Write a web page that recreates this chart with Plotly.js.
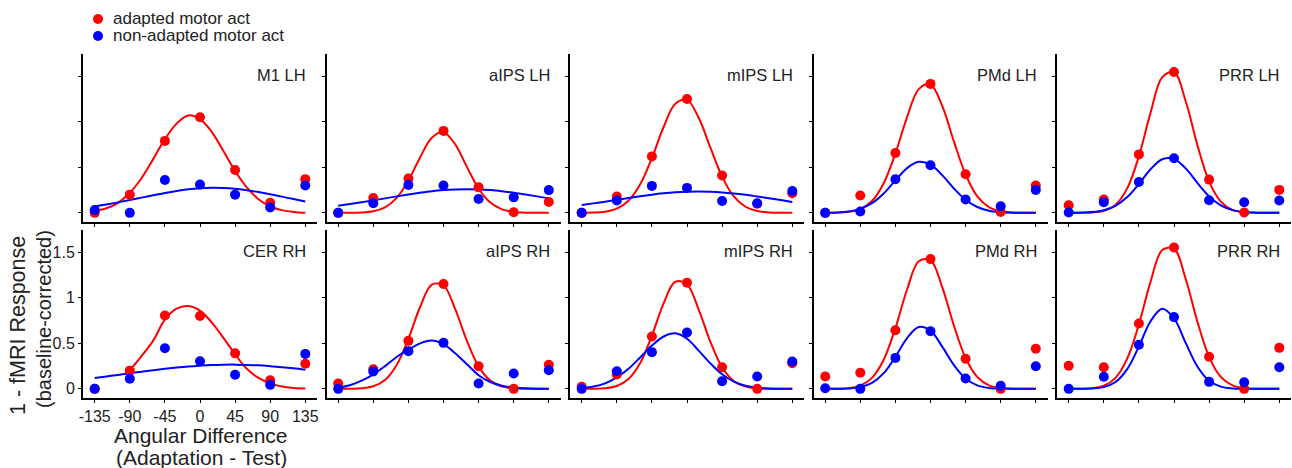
<!DOCTYPE html>
<html>
<head>
<meta charset="utf-8">
<script src="https://cdn.plot.ly/plotly-3.0.1.min.js"></script>
<style>html,body{margin:0;padding:0;background:#fff;}#chart{width:1292px;height:468px;}</style>
</head>
<body>
<div id="chart"></div>
<script>
// ---------------- DATA ----------------
const angles = [-135, -90, -45, 0, 45, 90, 135];
const tickLabelsX = ['-135', '-90', '-45', '0', '45', '90', '135'];
const tickValsY = [0, 0.5, 1, 1.5];
const tickLabelsY = ['0', '0.5', '1', '1.5'];
const fitAngles = [-135, -120, -105, -90, -75, -60, -45, -30, -15, 0, 15, 30, 45, 60, 75, 90, 105, 120, 135];
const fitAnglesCER = [-95, -90, -75, -60, -45, -30, -15, 0, 15, 30, 45, 60, 75, 90, 105, 120, 135];
const seriesNames = ['adapted motor act', 'non-adapted motor act'];
const panelNames = ['M1 LH', 'aIPS LH', 'mIPS LH', 'PMd LH', 'PRR LH', 'CER RH', 'aIPS RH', 'mIPS RH', 'PMd RH', 'PRR RH'];

// M1 LH
const m1lhAdapted = [0.0, 0.20, 0.79, 1.05, 0.47, 0.11, 0.37];
const m1lhNonAdapted = [0.03, 0.0, 0.36, 0.31, 0.20, 0.06, 0.30];
const m1lhAdaptedFit = [0.02, 0.05, 0.11, 0.22, 0.38, 0.59, 0.81, 0.98, 1.07, 1.03, 0.89, 0.68, 0.46, 0.28, 0.15, 0.07, 0.03, 0.01, 0.0];
const m1lhNonAdaptedFit = [0.071, 0.092, 0.115, 0.140, 0.167, 0.193, 0.219, 0.241, 0.258, 0.270, 0.275, 0.273, 0.264, 0.248, 0.228, 0.204, 0.178, 0.151, 0.125];
// aIPS LH
const aipslhAdapted = [0.0, 0.164, 0.376, 0.90, 0.28, 0.007, 0.12];
const aipslhNonAdapted = [0.0, 0.106, 0.306, 0.30, 0.153, 0.17, 0.25];
const aipslhAdaptedFit = [0, 0.001, 0.004, 0.017, 0.060, 0.164, 0.355, 0.609, 0.826, 0.886, 0.752, 0.505, 0.268, 0.113, 0.038, 0.010, 0.002, 0, 0];
const aipslhNonAdaptedFit = [0.077, 0.096, 0.116, 0.137, 0.159, 0.181, 0.202, 0.221, 0.238, 0.250, 0.257, 0.26, 0.257, 0.250, 0.238, 0.221, 0.202, 0.181, 0.159];
// mIPS LH
const mipslhAdapted = [0.0, 0.18, 0.62, 1.25, 0.41, 0.10, 0.215];
const mipslhNonAdapted = [0.0, 0.135, 0.296, 0.274, 0.131, 0.106, 0.24];
const mipslhAdaptedFit = [0, 0.003, 0.013, 0.046, 0.132, 0.313, 0.602, 0.943, 1.199, 1.241, 1.044, 0.715, 0.398, 0.180, 0.067, 0.020, 0.005, 0.001, 0];
const mipslhNonAdaptedFit = [0.085, 0.104, 0.123, 0.143, 0.163, 0.183, 0.200, 0.214, 0.225, 0.232, 0.234, 0.231, 0.224, 0.213, 0.198, 0.180, 0.161, 0.141, 0.120];
// PMd LH
const pmdlhAdapted = [0.0, 0.19, 0.657, 1.416, 0.423, 0.01, 0.30];
const pmdlhNonAdapted = [0.0, 0.015, 0.369, 0.522, 0.146, 0.073, 0.252];
const pmdlhAdaptedFit = [0, 0.002, 0.011, 0.042, 0.130, 0.326, 0.653, 1.052, 1.359, 1.410, 1.174, 0.785, 0.421, 0.181, 0.063, 0.017, 0.004, 0.001, 0];
const pmdlhNonAdaptedFit = [0.001, 0.004, 0.015, 0.044, 0.106, 0.213, 0.356, 0.491, 0.560, 0.529, 0.414, 0.268, 0.144, 0.064, 0.023, 0.007, 0.002, 0, 0];
// PRR LH
const prrlhAdapted = [0.084, 0.146, 0.642, 1.547, 0.365, 0.004, 0.252];
const prrlhNonAdapted = [0.004, 0.117, 0.339, 0.60, 0.139, 0.117, 0.135];
const prrlhAdaptedFit = [0, 0.001, 0.004, 0.023, 0.089, 0.269, 0.622, 1.101, 1.491, 1.545, 1.225, 0.744, 0.345, 0.123, 0.033, 0.007, 0.001, 0, 0];
const prrlhNonAdaptedFit = [0, 0.002, 0.008, 0.028, 0.077, 0.173, 0.318, 0.479, 0.589, 0.593, 0.488, 0.329, 0.182, 0.082, 0.030, 0.009, 0.002, 0, 0];
// CER RH
const cerrhAdapted = [0.0, 0.20, 0.805, 0.80, 0.39, 0.095, 0.275];
const cerrhNonAdapted = [0.0, 0.11, 0.446, 0.304, 0.154, 0.044, 0.384];
const cerrhAdaptedFit = [0.18, 0.21, 0.36, 0.53, 0.76, 0.88, 0.91, 0.86, 0.73, 0.56, 0.38, 0.22, 0.12, 0.06, 0.025, 0.01, 0.005];
const cerrhNonAdaptedFit = [0.119, 0.136, 0.153, 0.171, 0.188, 0.205, 0.220, 0.234, 0.246, 0.255, 0.262, 0.265, 0.266, 0.263, 0.258, 0.249, 0.238, 0.225, 0.210];
// aIPS RH
const aipsrhAdapted = [0.059, 0.216, 0.527, 1.152, 0.249, 0.0, 0.264];
const aipsrhNonAdapted = [0.0, 0.19, 0.414, 0.505, 0.059, 0.168, 0.205];
const aipsrhAdaptedFit = [0, 0.001, 0.006, 0.028, 0.097, 0.262, 0.550, 0.899, 1.144, 1.135, 0.876, 0.527, 0.247, 0.090, 0.026, 0.006, 0.001, 0, 0];
const aipsrhNonAdaptedFit = [0.015, 0.04, 0.09, 0.16, 0.25, 0.35, 0.43, 0.50, 0.53, 0.49, 0.39, 0.27, 0.15, 0.075, 0.035, 0.015, 0.006, 0.002, 0];
// mIPS RH
const mipsrhAdapted = [0.022, 0.157, 0.575, 1.165, 0.238, 0.0, 0.282];
const mipsrhNonAdapted = [0.0, 0.194, 0.403, 0.619, 0.084, 0.135, 0.30];
const mipsrhAdaptedFit = [0, 0.001, 0.007, 0.031, 0.107, 0.283, 0.584, 0.939, 1.176, 1.147, 0.871, 0.516, 0.237, 0.085, 0.024, 0.005, 0.001, 0, 0];
const mipsrhNonAdaptedFit = [0.008, 0.025, 0.06, 0.125, 0.22, 0.345, 0.475, 0.575, 0.61, 0.55, 0.42, 0.28, 0.16, 0.08, 0.035, 0.013, 0.004, 0.001, 0];
// PMd RH
const pmdrhAdapted = [0.135, 0.176, 0.644, 1.425, 0.33, 0.0, 0.44];
const pmdrhNonAdapted = [0.007, 0.0, 0.34, 0.633, 0.113, 0.033, 0.249];
const pmdrhAdaptedFit = [0, 0.001, 0.008, 0.036, 0.121, 0.320, 0.667, 1.091, 1.401, 1.412, 1.118, 0.695, 0.339, 0.130, 0.039, 0.009, 0.002, 0, 0];
const pmdrhNonAdaptedFit = [0, 0.001, 0.004, 0.019, 0.065, 0.172, 0.353, 0.557, 0.679, 0.639, 0.464, 0.261, 0.113, 0.038, 0.010, 0.002, 0, 0, 0];
// PRR RH
const prrrhAdapted = [0.253, 0.238, 0.718, 1.553, 0.352, 0.0, 0.45];
const prrrhNonAdapted = [0.0, 0.132, 0.484, 0.788, 0.077, 0.073, 0.238];
const prrrhAdaptedFit = [0, 0.001, 0.008, 0.034, 0.121, 0.332, 0.708, 1.178, 1.525, 1.538, 1.207, 0.738, 0.352, 0.131, 0.038, 0.008, 0.001, 0, 0];
const prrrhNonAdaptedFit = [0, 0.001, 0.004, 0.019, 0.075, 0.217, 0.466, 0.743, 0.879, 0.773, 0.505, 0.245, 0.088, 0.024, 0.005, 0.001, 0, 0, 0];

// ---------------- BUILD ----------------
const panels = [
  [m1lhAdapted, m1lhNonAdapted, m1lhAdaptedFit, m1lhNonAdaptedFit, fitAngles],
  [aipslhAdapted, aipslhNonAdapted, aipslhAdaptedFit, aipslhNonAdaptedFit, fitAngles],
  [mipslhAdapted, mipslhNonAdapted, mipslhAdaptedFit, mipslhNonAdaptedFit, fitAngles],
  [pmdlhAdapted, pmdlhNonAdapted, pmdlhAdaptedFit, pmdlhNonAdaptedFit, fitAngles],
  [prrlhAdapted, prrlhNonAdapted, prrlhAdaptedFit, prrlhNonAdaptedFit, fitAngles],
  [cerrhAdapted, cerrhNonAdapted, cerrhAdaptedFit, cerrhNonAdaptedFit, fitAnglesCER],
  [aipsrhAdapted, aipsrhNonAdapted, aipsrhAdaptedFit, aipsrhNonAdaptedFit, fitAngles],
  [mipsrhAdapted, mipsrhNonAdapted, mipsrhAdaptedFit, mipsrhNonAdaptedFit, fitAngles],
  [pmdrhAdapted, pmdrhNonAdapted, pmdrhAdaptedFit, pmdrhNonAdaptedFit, fitAngles],
  [prrrhAdapted, prrrhNonAdapted, prrrhAdaptedFit, prrrhNonAdaptedFit, fitAngles]
];

const RED = '#ff0000', BLUE = '#0000ff';
const W = 1292, H = 468;
const FONT = '"Liberation Sans", Arial, sans-serif';
const TXT = '#222222';
const colLeft = [83, 326.5, 570, 813.5, 1057];
const panelW = 234;
const rowDomains = [[1 - 221.5 / H, 1 - 53.5 / H], [1 - 397.5 / H, 1 - 229.5 / H]];

const traces = [];
const layout = {
  width: W, height: H,
  margin: {l: 0, r: 0, t: 0, b: 0},
  paper_bgcolor: '#ffffff', plot_bgcolor: '#ffffff',
  showlegend: false,
  font: {family: FONT, color: TXT, size: 16},
  annotations: [], shapes: []
};

panels.forEach((p, k) => {
  const i = k + 1;
  const xa = i === 1 ? 'x' : 'x' + i;
  const ya = i === 1 ? 'y' : 'y' + i;
  const col = k % 5, row = Math.floor(k / 5);
  const labelled = (i === 6);
  const [ad, na, adFit, naFit, adFitX] = p;

  traces.push({x: adFitX, y: adFit, xaxis: xa, yaxis: ya, type: 'scatter', mode: 'lines',
    line: {color: RED, width: 2, shape: 'spline', smoothing: 1}, hoverinfo: 'skip', name: seriesNames[0]});
  traces.push({x: fitAngles, y: naFit, xaxis: xa, yaxis: ya, type: 'scatter', mode: 'lines',
    line: {color: BLUE, width: 2, shape: 'spline', smoothing: 1}, hoverinfo: 'skip', name: seriesNames[1]});
  traces.push({x: angles, y: ad, xaxis: xa, yaxis: ya, type: 'scatter', mode: 'markers',
    marker: {color: RED, size: 10}, cliponaxis: false, name: seriesNames[0]});
  traces.push({x: angles, y: na, xaxis: xa, yaxis: ya, type: 'scatter', mode: 'markers',
    marker: {color: BLUE, size: 10}, cliponaxis: false, name: seriesNames[1]});

  const xKey = i === 1 ? 'xaxis' : 'xaxis' + i;
  const yKey = i === 1 ? 'yaxis' : 'yaxis' + i;
  layout[xKey] = {
    domain: [colLeft[col] / W, Math.min(1, (colLeft[col] + panelW) / W)],
    anchor: ya, range: [-150, 150], fixedrange: true,
    showgrid: false, zeroline: false, showline: true, linecolor: '#000', linewidth: 2,
    ticks: 'outside', ticklen: 3, tickwidth: 1, tickcolor: '#000',
    tickvals: angles, ticktext: tickLabelsX, showticklabels: labelled,
    tickfont: {family: FONT, size: 16, color: TXT}
  };
  layout[yKey] = {
    domain: rowDomains[row],
    anchor: xa, range: [-0.095, 1.75], fixedrange: true,
    showgrid: false, zeroline: false, showline: true, linecolor: '#000', linewidth: 2,
    ticks: 'outside', ticklen: 3, tickwidth: 1, tickcolor: '#000',
    tickvals: tickValsY, ticktext: tickLabelsY, showticklabels: labelled,
    tickfont: {family: FONT, size: 16, color: TXT}
  };
  layout.annotations.push({
    text: panelNames[k], xref: xa + ' domain', yref: ya + ' domain',
    x: 1, y: 1, xanchor: 'right', yanchor: 'middle', xshift: -9, yshift: -21,
    showarrow: false, font: {family: FONT, size: 16.5, color: TXT}
  });
});

// axis titles
layout.annotations.push(
  {text: 'Angular Difference', xref: 'paper', yref: 'paper', x: 201 / W, y: 1 - 435 / H,
   xanchor: 'center', yanchor: 'middle', showarrow: false, font: {family: FONT, size: 21, color: TXT}},
  {text: '(Adaptation - Test)', xref: 'paper', yref: 'paper', x: 201 / W, y: 1 - 457 / H,
   xanchor: 'center', yanchor: 'middle', showarrow: false, font: {family: FONT, size: 21, color: TXT}},
  {text: '1 - fMRI Response', xref: 'paper', yref: 'paper', x: 18 / W, y: 1 - 326 / H, textangle: -90,
   xanchor: 'center', yanchor: 'middle', showarrow: false, font: {family: FONT, size: 21.5, color: TXT}},
  {text: '(baseline-corrected)', xref: 'paper', yref: 'paper', x: 44 / W, y: 1 - 319 / H, textangle: -90,
   xanchor: 'center', yanchor: 'middle', showarrow: false, font: {family: FONT, size: 20, color: TXT}}
);

// legend
const legendY = [19, 36];
const legendColors = [RED, BLUE];
seriesNames.forEach((nm, j) => {
  layout.shapes.push({type: 'circle', xref: 'paper', yref: 'paper',
    x0: 93 / W, x1: 103 / W, y0: 1 - (legendY[j] + 5) / H, y1: 1 - (legendY[j] - 5) / H,
    fillcolor: legendColors[j], line: {width: 0}});
  layout.annotations.push({text: nm, xref: 'paper', yref: 'paper', x: 111 / W, y: 1 - legendY[j] / H,
    xanchor: 'left', yanchor: 'middle', showarrow: false, font: {family: FONT, size: 17, color: TXT}});
});

Plotly.newPlot('chart', traces, layout, {staticPlot: true, displayModeBar: false});
</script>
</body>
</html>
